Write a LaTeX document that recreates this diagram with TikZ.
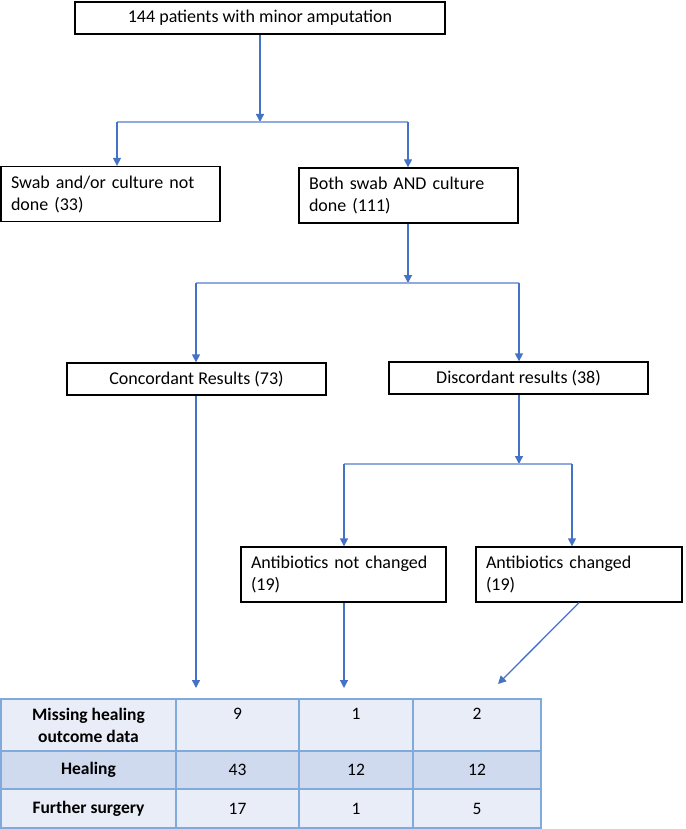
\documentclass[tikz,border=0pt]{standalone}
\usepackage{fontspec}
\setmainfont{Carlito}
\usepackage{tikz}
\usetikzlibrary{arrows.meta,calc}
\definecolor{arrowblue}{HTML}{4472C4}
\definecolor{branchblue}{HTML}{8FAADC}
\definecolor{gridblue}{HTML}{7FAADB}
\definecolor{rowlight}{HTML}{E9EDF7}
\definecolor{rowdark}{HTML}{CFDAEE}
\tikzstyle{box} = [rectangle, draw, line width=1.3pt, inner sep=0pt, font=\fontsize{18}{22}\selectfont]
\tikzstyle{onebox} = [box, text centered, minimum height=32pt]
\tikzstyle{twobox} = [box, align=left, inner xsep=10pt, minimum height=55pt]
\tikzstyle{connector} = [line width=1.3pt, arrowblue, -{Triangle[length=8pt,width=8pt]}]
\tikzstyle{branch} = [line width=1.1pt, branchblue]
\tikzstyle{cell} = [rectangle, draw=gridblue, line width=2pt, inner sep=0pt, align=center, font=\fontsize{17.5}{22}\selectfont]
\tikzstyle{headcell} = [cell, font=\bfseries\fontsize{17.5}{22}\selectfont]

\begin{document}
\begin{tikzpicture}[x=1pt,y=-1pt]
            \useasboundingbox (0,0) rectangle (685,829);
            \node (start) [onebox,minimum width=370pt] at (260,18) {144 patients with minor amputation};
            \node (notdone) [twobox,text width=199pt] at (110.5,194) {Swab and/or culture not\\done (33)};
            \node (done) [twobox,text width=199pt] at (408.5,195.5) {Both swab AND culture\\done (111)};
            \node (conc) [onebox,minimum width=259pt] at (196.5,379) {Concordant Results (73)};
            \node (disc) [onebox,minimum width=259pt] at (518.5,378) {Discordant results (38)};
            \node (abnot) [twobox,text width=185pt] at (343.5,574.5) {Antibiotics not changed\\(19)};
            \node (abchg) [twobox,text width=186pt] at (579,574.5) {Antibiotics changed\\(19)};
            % outcome table
            \node (missing) [headcell,fill=rowlight,minimum width=175pt,minimum height=52pt] at (88.5,725) {Missing healing\\outcome data};
            \node (missconc) [cell,fill=rowlight,minimum width=123pt,minimum height=52pt] at (237.5,725) {9\\\phantom{0}};
            \node (missnot) [cell,fill=rowlight,minimum width=114pt,minimum height=52pt] at (356,725) {1\\\phantom{0}};
            \node (misschg) [cell,fill=rowlight,minimum width=128pt,minimum height=52pt] at (477,725) {2\\\phantom{0}};
            \node (healing) [headcell,fill=rowdark,minimum width=175pt,minimum height=38pt] at (88.5,770) {Healing};
            \node (healconc) [cell,fill=rowdark,minimum width=123pt,minimum height=38pt] at (237.5,770) {43};
            \node (healnot) [cell,fill=rowdark,minimum width=114pt,minimum height=38pt] at (356,770) {12};
            \node (healchg) [cell,fill=rowdark,minimum width=128pt,minimum height=38pt] at (477,770) {12};
            \node (surgery) [headcell,fill=rowlight,minimum width=175pt,minimum height=39pt] at (88.5,808.5) {Further surgery};
            \node (surgconc) [cell,fill=rowlight,minimum width=123pt,minimum height=39pt] at (237.5,808.5) {17};
            \node (surgnot) [cell,fill=rowlight,minimum width=114pt,minimum height=39pt] at (356,808.5) {1};
            \node (surgchg) [cell,fill=rowlight,minimum width=128pt,minimum height=39pt] at (477,808.5) {5};
            % split points and arrow ends
            \coordinate (split1) at (260,122);
            \coordinate (split1l) at (117,122);
            \coordinate (split1r) at (408,122);
            \coordinate (split2) at (408,283);
            \coordinate (split2l) at (196,283);
            \coordinate (split2r) at (519,283);
            \coordinate (split3) at (519,464);
            \coordinate (split3l) at (344,464);
            \coordinate (split3r) at (572,464);
            \coordinate (concend) at (196,688);
            \coordinate (notend) at (344,688);
            \coordinate (chgend) at (498,684);
            \draw [connector] (start) -- (split1);
            \draw [branch] (split1l) -- (split1r);
            \draw [connector] (split1l) -- (split1l |- notdone.north);
            \draw [connector] (split1r) -- (split1r |- done.north);
            \draw [connector] (done.south -| split2) -- (split2);
            \draw [branch] (split2l) -- (split2r);
            \draw [connector] (split2l) -- (split2l |- conc.north);
            \draw [connector] (split2r) -- (split2r |- disc.north);
            \draw [connector] (disc.south -| split3) -- (split3);
            \draw [branch] (split3l) -- (split3r);
            \draw [connector] (split3l) -- (split3l |- abnot.north);
            \draw [connector] (split3r) -- (split3r |- abchg.north);
            \draw [connector] (conc.south -| concend) -- (concend);
            \draw [connector] (abnot.south -| notend) -- (notend);
            \draw [connector] (abchg.south) -- (chgend);
        \end{tikzpicture}
\end{document}
